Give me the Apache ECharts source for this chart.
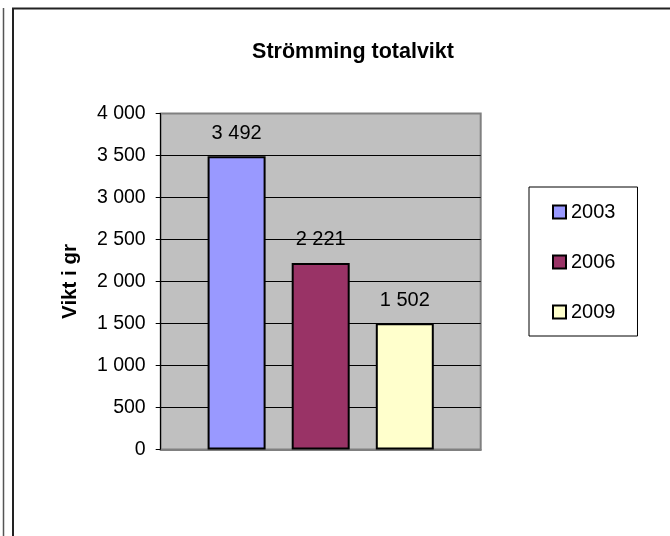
<!DOCTYPE html>
<html>
<head>
<meta charset="utf-8">
<script src="https://cdn.jsdelivr.net/npm/echarts@6/dist/echarts.min.js"></script>
<style>html,body{margin:0;padding:0;background:#fff}#c{width:670px;height:536px}</style>
</head>
<body>
<div id="c"></div>
<script>
const titleText = 'Strömming totalvikt';
const yAxisName = 'Vikt i gr';
const seriesNames = ['2003', '2006', '2009'];
const seriesValues = [3492, 2221, 1502];
const seriesColors = ['#9999FF', '#993366', '#FFFFCC'];
const yMin = 0, yMax = 4000, yStep = 500;

const FONT = '"Liberation Sans", Arial, sans-serif';
function fmt(v) {
  return String(v).replace(/\B(?=(\d{3})+(?!\d))/g, ' ');
}

const chart = echarts.init(document.getElementById('c'), null, {renderer: 'canvas'});
const splitColors = [];
for (let v = yMin; v <= yMax; v += yStep) splitColors.push(v === yMin || v === yMax ? 'rgba(0,0,0,0)' : '#000000');

chart.setOption({
  animation: false,
  backgroundColor: '#ffffff',
  textStyle: {fontFamily: FONT},
  title: {
    text: titleText,
    left: 348, top: 36, textAlign: 'center',
    textStyle: {fontFamily: FONT, fontSize: 21.5, fontWeight: 'bold', color: '#000'}
  },
  grid: {
    left: 160.7, top: 113.5, width: 320, height: 336,
    show: true, backgroundColor: '#C0C0C0', borderColor: '#808080', borderWidth: 2
  },
  legend: {
    data: seriesNames,
    orient: 'vertical',
    left: 529, top: 187,
    padding: [15, 22, 14, 23],
    itemGap: 30, itemWidth: 13, itemHeight: 13,
    borderColor: '#000', borderWidth: 1,
    backgroundColor: '#fff',
    textStyle: {fontFamily: FONT, fontSize: 20, color: '#000', lineHeight: 20},
    icon: 'rect'
  },
  xAxis: {
    type: 'category', data: [''],
    axisLine: {show: true, lineStyle: {color: '#808080', width: 2}},
    axisTick: {show: false}, axisLabel: {show: false}, splitLine: {show: false}
  },
  yAxis: {
    type: 'value', min: yMin, max: yMax, interval: yStep,
    name: yAxisName, nameLocation: 'middle', nameGap: 80, nameRotate: 90,
    nameTextStyle: {fontFamily: FONT, fontSize: 20.5, fontWeight: 'bold', color: '#000'},
    axisLine: {show: true, lineStyle: {color: '#000', width: 1}},
    axisTick: {show: true, length: 5, lineStyle: {color: '#000'}},
    axisLabel: {margin: 15, fontFamily: FONT, fontSize: 19.5, color: '#000', formatter: v => fmt(v)},
    splitLine: {show: true, lineStyle: {color: splitColors, width: 1}}
  },
  graphic: [
    {type: 'line', shape: {x1: 3.5, y1: 8, x2: 3.5, y2: 536}, style: {stroke: '#555', lineWidth: 1.5}, silent: true},
    {type: 'rect', shape: {x: 13, y: 8.5, width: 700, height: 600}, style: {fill: 'none', stroke: '#222', lineWidth: 2}, silent: true}
  ],
  series: seriesNames.map((name, i) => ({
    name: name,
    type: 'bar',
    data: [seriesValues[i]],
    barWidth: 58,
    barGap: '45%',
    itemStyle: {color: seriesColors[i], borderColor: '#000', borderWidth: 2},
    label: {
      show: true, position: 'top', distance: 13,
      fontFamily: FONT, fontSize: 20, color: '#000',
      formatter: p => fmt(p.value)
    }
  }))
});
</script>
</body>
</html>
